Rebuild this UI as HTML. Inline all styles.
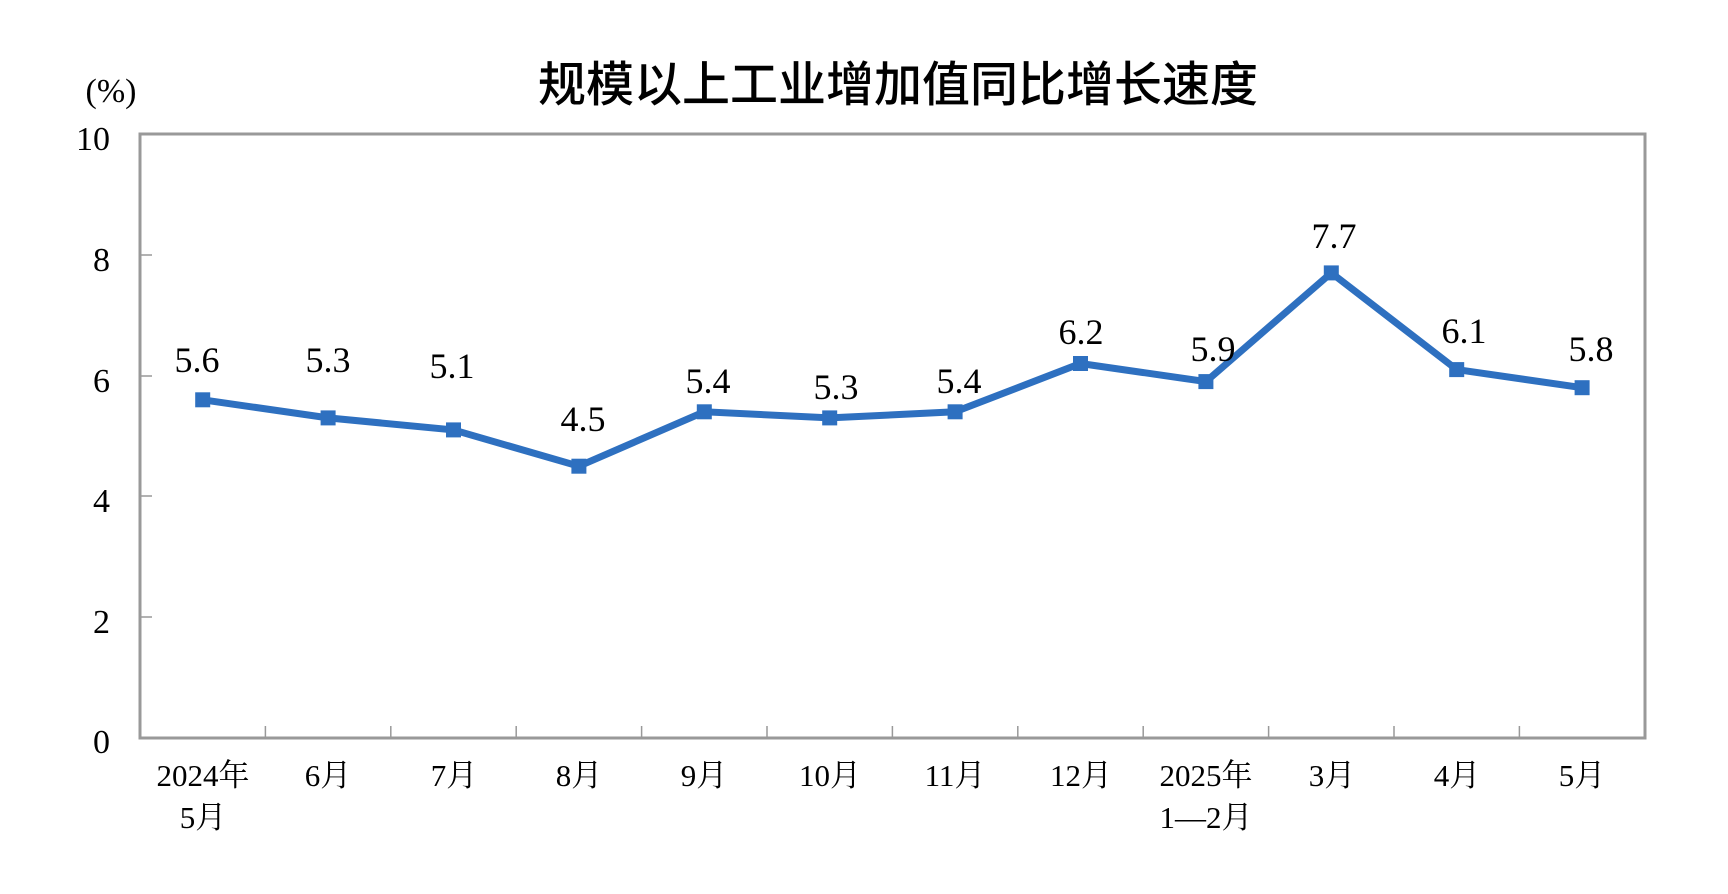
<!DOCTYPE html>
<html><head><meta charset="utf-8"><style>
html,body{margin:0;padding:0;background:#fff;}
svg{display:block;}
text{font-family:"Liberation Serif","Noto Serif CJK SC",serif;fill:#000;}
</style></head><body>
<svg width="1728" height="894" viewBox="0 0 1728 894" xmlns="http://www.w3.org/2000/svg">
<text x="898" y="101" text-anchor="middle" style="font-family:'Liberation Sans','Noto Sans CJK SC',sans-serif;font-weight:500;" font-size="48">规模以上工业增加值同比增长速度</text>
<text x="111" y="102" text-anchor="middle" font-size="34">(%)</text>
<rect x="140" y="134" width="1505" height="604" fill="none" stroke="#999" stroke-width="3"/>
<g stroke="#999" stroke-width="1.5">
<line x1="140" y1="255" x2="152" y2="255"/><line x1="140" y1="376" x2="152" y2="376"/>
<line x1="140" y1="496" x2="152" y2="496"/><line x1="140" y1="617" x2="152" y2="617"/>
<line x1="265.4" y1="726" x2="265.4" y2="738"/><line x1="390.8" y1="726" x2="390.8" y2="738"/>
<line x1="516.2" y1="726" x2="516.2" y2="738"/><line x1="641.6" y1="726" x2="641.6" y2="738"/>
<line x1="767" y1="726" x2="767" y2="738"/><line x1="892.4" y1="726" x2="892.4" y2="738"/>
<line x1="1017.8" y1="726" x2="1017.8" y2="738"/><line x1="1143.2" y1="726" x2="1143.2" y2="738"/>
<line x1="1268.6" y1="726" x2="1268.6" y2="738"/><line x1="1394" y1="726" x2="1394" y2="738"/>
<line x1="1519.4" y1="726" x2="1519.4" y2="738"/>
</g>
<g font-size="34" text-anchor="end">
<text x="110" y="150">10</text><text x="110" y="271">8</text><text x="110" y="392">6</text>
<text x="110" y="512">4</text><text x="110" y="633">2</text><text x="110" y="753">0</text>
</g>
<g font-size="31" text-anchor="middle">
<text x="203" y="786">2024年</text><text x="203" y="828">5月</text>
<text x="328" y="786">6月</text><text x="454" y="786">7月</text><text x="579" y="786">8月</text>
<text x="704" y="786">9月</text><text x="830" y="786">10月</text><text x="955" y="786">11月</text>
<text x="1081" y="786">12月</text><text x="1206" y="786">2025年</text><text x="1206" y="828">1—2月</text>
<text x="1332" y="786">3月</text><text x="1457" y="786">4月</text><text x="1582" y="786">5月</text>
</g>
<polyline fill="none" stroke="#2e70c0" stroke-width="7" stroke-linejoin="miter" points="202.7,399.8 328.1,417.9 453.5,429.9 578.9,466.2 704.3,411.8 829.7,417.9 955.1,411.8 1080.5,363.5 1205.9,381.6 1331.3,272.9 1456.7,369.6 1582.1,387.7"/>
<g fill="#2e70c0">
<rect x="195.2" y="392.3" width="15" height="15"/><rect x="320.6" y="410.4" width="15" height="15"/>
<rect x="446" y="422.4" width="15" height="15"/><rect x="571.4" y="458.7" width="15" height="15"/>
<rect x="696.8" y="404.3" width="15" height="15"/><rect x="822.2" y="410.4" width="15" height="15"/>
<rect x="947.6" y="404.3" width="15" height="15"/><rect x="1073" y="356" width="15" height="15"/>
<rect x="1198.4" y="374.1" width="15" height="15"/><rect x="1323.8" y="265.4" width="15" height="15"/>
<rect x="1449.2" y="362.1" width="15" height="15"/><rect x="1574.6" y="380.2" width="15" height="15"/>
</g>
<g font-size="36" text-anchor="middle">
<text x="197" y="372">5.6</text><text x="328" y="372">5.3</text><text x="452" y="378">5.1</text>
<text x="583" y="431">4.5</text><text x="708" y="393">5.4</text><text x="836" y="399">5.3</text>
<text x="959" y="393">5.4</text><text x="1081" y="344">6.2</text><text x="1213" y="361">5.9</text>
<text x="1334" y="248">7.7</text><text x="1464" y="343">6.1</text><text x="1591" y="361">5.8</text>
</g>
</svg>
</body></html>
